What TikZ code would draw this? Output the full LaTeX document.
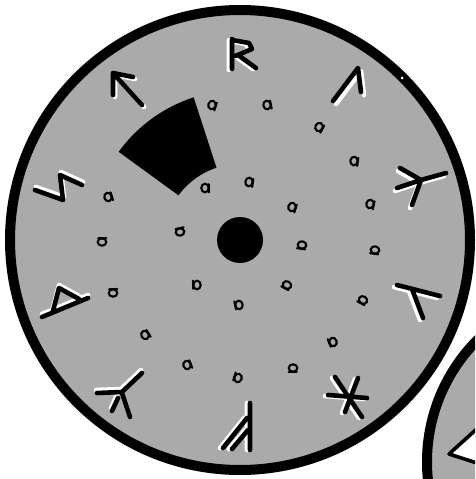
\documentclass[tikz,border=0pt]{standalone}
\usetikzlibrary{calc}
\definecolor{disc}{RGB}{170,170,170}
\newcommand\myrune[2]{\draw[runehi,shift={#1}] #2; \draw[rune] #2;}
\begin{document}
\begin{tikzpicture}[x=1pt,y=-1pt,
  rune/.style={line width=4.6pt,line cap=round,line join=round,black},
  runehi/.style={line width=4.6pt,line cap=round,line join=round,white},
  glyph/.style={line width=2.1pt,black,line cap=round},
  ga/.pic={\draw[glyph] (0,0) ellipse[x radius=3.7,y radius=4.3];
           \draw[glyph] (3.7,-3.8)--(4.0,4.4);}]
\useasboundingbox (0,0) rectangle (475,479);
\begin{scope}
\clip (0,0) rectangle (475,479);
% second disc (partial, lower right)
\fill[disc] (600,462) circle[radius=173];
\draw[line width=10pt] (600,462) circle[radius=173];
\filldraw[fill=white,line width=3.6pt,line join=round] (480,426)--(449,454)--(480,464);
% main disc
\fill[disc] (240,240) circle[radius=230];
\draw[line width=10pt] (240,240) circle[radius=230];
\fill[white] (402,78) circle[radius=1.5];
% centre dot
\fill (240,240) circle[radius=23];
% black sector
\fill (240,240) ++(-144:150) arc[start angle=-144,end angle=-108,radius=150]
  -- ($(240,240)+(-108:76)$) arc[start angle=-108,end angle=-144,radius=76] -- cycle;
% runes
\myrune{(-3,1)}{(232,39)--(232,69) (232,40)--(249,43)--(252,49)--(235,56) (238,55)--(256,68)}
\myrune{(3,3)}{(333,101)--(358,68)--(361,92)}
\myrune{(-2,3)}{(400,168)--(421,180)--(446,173) (397,188)--(421,180)--(412,205)}
\myrune{(-3,2)}{(397,285)--(440,296) (412,289)--(423,318)}
\myrune{(-3,1)}{(335,377)--(362,417) (328,395)--(367,398) (358,378)--(345,412)}
\myrune{(-3,0)}{(250,403)--(250,450) (223,448)--(247,418) (232,449)--(248,430)}
\myrune{(-1,-3)}{(97,393)--(122,392)--(142,373) (122,393)--(130,417) (118,398)--(112,411)}
\myrune{(0,-3)}{(42,317)--(88,298) (53,311)--(59,288)--(79,299)}
\myrune{(1,-3)}{(35,190)--(63,200)--(60,175)--(82,185)}
\myrune{(2,2)}{(113,73)--(142,105) (133,77)--(113,73)--(113,95)}
% outer ring of small glyphs
\pic[rotate=-20] at (212,105) {ga};
\pic[rotate=10] at (267,105) {ga};
\pic[rotate=-30] at (319,127) {ga};
\pic[rotate=-10] at (354,161) {ga};
\pic[rotate=-15] at (370,204) {ga};
\pic[rotate=-100] at (375,250) {ga};
\pic[rotate=-120] at (363,300) {ga};
\pic[rotate=-160] at (333,342) {ga};
\pic[rotate=-90] at (293,368) {ga};
\pic[rotate=160] at (238,378) {ga};
\pic[rotate=20] at (187,365) {ga};
\pic[rotate=30] at (145,335) {ga};
\pic[rotate=90] at (113,293) {ga};
\pic[rotate=90] at (102,242) {ga};
\pic[rotate=15] at (108,197) {ga};
% inner ring of small glyphs
\pic[rotate=0] at (205,188) {ga};
\pic[rotate=-10] at (249,182) {ga};
\pic[rotate=-20] at (292,207) {ga};
\pic[rotate=-100] at (302,245) {ga};
\pic[rotate=-120] at (287,285) {ga};
\pic[rotate=-170] at (239,305) {ga};
\pic[rotate=180] at (197,285) {ga};
\pic[rotate=100] at (180,232) {ga};
\end{scope}
\end{tikzpicture}
\end{document}
